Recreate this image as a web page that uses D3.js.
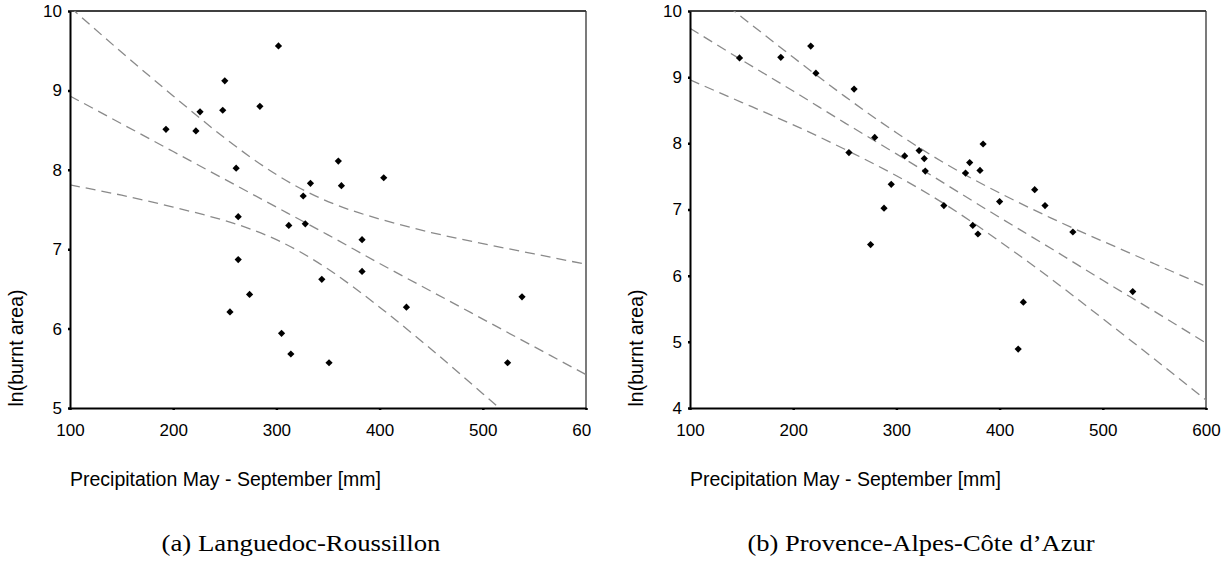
<!DOCTYPE html>
<html><head><meta charset="utf-8">
<script src="https://cdn.jsdelivr.net/npm/d3@7"></script>
<style>body{margin:0;background:#fff} svg{display:block}</style>
</head><body><svg id="c" width="1224" height="563"></svg>
<script>
// ---- data ----
const xTicks = [100, 200, 300, 400, 500, 600];
const yTicksA = [5, 6, 7, 8, 9, 10];
const yTicksB = [4, 5, 6, 7, 8, 9, 10];

const precipA = [193, 222, 226, 250, 248, 284, 302, 261, 360, 333, 326, 363, 404,
                 263, 312, 263, 274, 255, 305, 314, 328, 383, 344, 383, 426, 351, 524, 538];
const lnAreaA = [8.51, 8.49, 8.73, 9.12, 8.75, 8.80, 9.56, 8.02, 8.11, 7.83, 7.67, 7.80, 7.90,
                 7.41, 7.30, 6.87, 6.43, 6.21, 5.94, 5.68, 7.32, 7.12, 6.62, 6.72, 6.27, 5.57, 5.57, 6.40];

const precipB = [148, 188, 217, 222, 259, 254, 279, 308, 322, 295, 288, 275, 327, 328,
                 384, 371, 367, 381, 434, 400, 444, 346, 374, 379, 471, 423, 418, 529];
const lnAreaB = [9.29, 9.30, 9.47, 9.06, 8.82, 7.86, 8.09, 7.81, 7.89, 7.38, 7.02, 6.47, 7.77, 7.58,
                 7.99, 7.71, 7.55, 7.59, 7.30, 7.12, 7.06, 7.06, 6.76, 6.63, 6.66, 5.60, 4.89, 5.76];

const bandX  = [100, 150, 200, 250, 300, 350, 400, 450, 500, 550, 600];
const fitA   = [8.93, 8.58, 8.23, 7.88, 7.53, 7.18, 6.82, 6.47, 6.12, 5.77, 5.42];
const upperA = [10.05, 9.48, 8.93, 8.40, 7.94, 7.60, 7.38, 7.21, 7.07, 6.94, 6.81];
const lowerA = [7.81, 7.68, 7.53, 7.36, 7.12, 6.75, 6.27, 5.74, 5.18, 4.61, 4.03];
const fitB   = [9.74, 9.26, 8.79, 8.31, 7.84, 7.36, 6.88, 6.41, 5.93, 5.46, 4.98];
const upperB = [10.52, 9.91, 9.30, 8.71, 8.16, 7.67, 7.25, 6.87, 6.52, 6.18, 5.84];
const lowerB = [8.96, 8.62, 8.28, 7.91, 7.51, 7.05, 6.52, 5.95, 5.35, 4.74, 4.12];

const xTitle = "Precipitation May - September [mm]";
const yTitle = "ln(burnt area)";
const captions = ["(a) Languedoc-Roussillon", "(b) Provence-Alpes-Côte d’Azur"];

// ---- drawing ----
const svg = d3.select("#c");
const defs = svg.append("defs");

const panels = [
  {id: "A", left: 70, right: 586, yDom: [5, 10], yTicks: yTicksA, px: precipA, py: lnAreaA,
   bands: [upperA, fitA, lowerA], caption: captions[0], capX: 301, capW: 279, clipW: 591},
  {id: "B", left: 690, right: 1206, yDom: [4, 10], yTicks: yTicksB, px: precipB, py: lnAreaB,
   bands: [upperB, fitB, lowerB], caption: captions[1], capX: 921, capW: 347, clipW: 1224}
];
const plotTop = 11, plotBottom = 408;

panels.forEach(p => {
  const x = d3.scaleLinear().domain([100, 600]).range([p.left, p.right]);
  const y = d3.scaleLinear().domain(p.yDom).range([plotBottom, plotTop]);

  defs.append("clipPath").attr("id", "plot" + p.id)
    .append("rect").attr("x", p.left).attr("y", plotTop)
    .attr("width", p.right - p.left).attr("height", plotBottom - plotTop);
  defs.append("clipPath").attr("id", "pan" + p.id)
    .append("rect").attr("x", p.left - 80).attr("y", 0)
    .attr("width", p.clipW - (p.left - 80)).attr("height", 520);

  const g = svg.append("g").attr("clip-path", `url(#pan${p.id})`);

  // frame: top and right thin
  g.append("line").attr("x1", p.left).attr("x2", p.right).attr("y1", plotTop).attr("y2", plotTop)
    .attr("stroke", "#000").attr("stroke-width", 1.5);
  g.append("line").attr("x1", p.right).attr("x2", p.right).attr("y1", plotTop).attr("y2", plotBottom)
    .attr("stroke", "#333").attr("stroke-width", 1.3);

  // bands
  const line = d3.line().x((d, i) => x(bandX[i])).y(d => y(d)).curve(d3.curveNatural);
  const lg = g.append("g").attr("clip-path", `url(#plot${p.id})`);
  p.bands.forEach(b => {
    lg.append("path").attr("d", line(b)).attr("fill", "none")
      .attr("stroke", "#8a8a8a").attr("stroke-width", 1.3)
      .attr("stroke-dasharray", "10,6");
  });

  // points
  const sym = d3.symbol().type(d3.symbolSquare).size(26);
  g.append("g").selectAll("path").data(p.px).join("path")
    .attr("d", sym)
    .attr("transform", (d, i) => `translate(${x(d)},${y(p.py[i])}) rotate(45)`)
    .attr("fill", "#000");

  // axes
  const ax = g.append("g").attr("transform", `translate(0,${plotBottom})`)
    .call(d3.axisBottom(x).tickValues(xTicks).tickFormat(d3.format("d")).tickSize(2).tickSizeOuter(0).tickPadding(14));
  const ay = g.append("g").attr("transform", `translate(${p.left},0)`)
    .call(d3.axisLeft(y).tickValues(p.yTicks).tickFormat(d3.format("d")).tickSize(2).tickSizeOuter(0).tickPadding(6));
  [ax, ay].forEach(a => {
    a.select(".domain").attr("stroke", "#000").attr("stroke-width", 2);
    a.selectAll(".tick line").attr("stroke", "#000").attr("stroke-width", 2.5);
    a.selectAll(".tick text").attr("fill", "#000")
      .style("font-family", "'Liberation Sans', Arial, sans-serif").style("font-size", "17px");
  });

  // titles
  g.append("text").attr("x", p.left).attr("y", 486)
    .style("font-family", "'Liberation Sans', Arial, sans-serif").style("font-size", "19.5px")
    .text(xTitle);
  g.append("text").attr("transform", `translate(${p.left - 47},348) rotate(-90)`)
    .attr("text-anchor", "middle")
    .style("font-family", "'Liberation Sans', Arial, sans-serif").style("font-size", "19.5px")
    .text(yTitle);

  svg.append("text").attr("x", p.capX).attr("y", 551).attr("text-anchor", "middle")
    .attr("textLength", p.capW).attr("lengthAdjust", "spacingAndGlyphs")
    .style("font-family", "'Liberation Serif', 'Times New Roman', serif").style("font-size", "23px")
    .text(p.caption);
});
</script>
</body></html>
